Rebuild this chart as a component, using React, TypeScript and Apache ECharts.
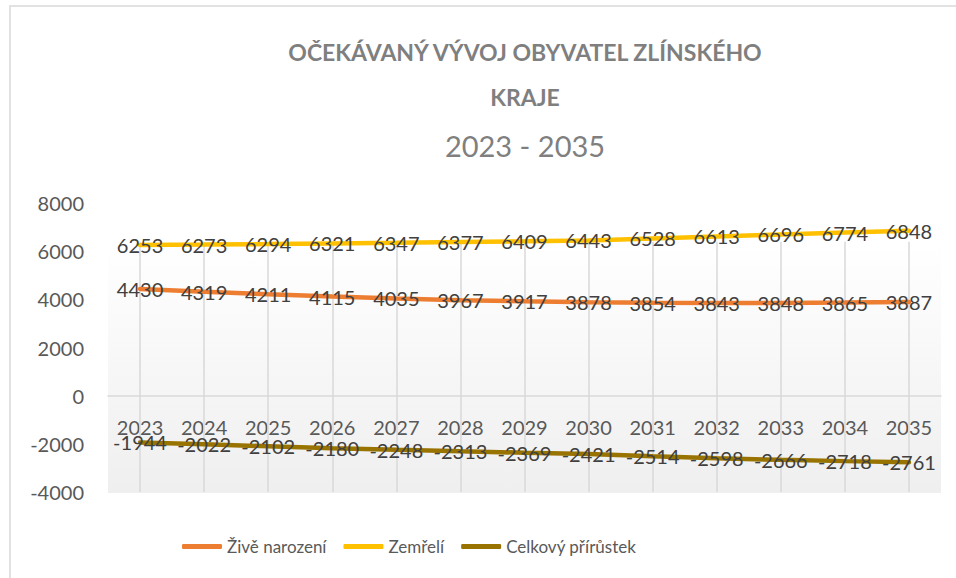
import React, { useEffect, useRef } from "react";
import * as echarts from "echarts";

const years = ["2023", "2024", "2025", "2026", "2027", "2028", "2029", "2030", "2031", "2032", "2033", "2034", "2035"];
const liveBirths = [4430, 4319, 4211, 4115, 4035, 3967, 3917, 3878, 3854, 3843, 3848, 3865, 3887];
const deaths = [6253, 6273, 6294, 6321, 6347, 6377, 6409, 6443, 6528, 6613, 6696, 6774, 6848];
const totalChange = [-1944, -2022, -2102, -2180, -2248, -2313, -2369, -2421, -2514, -2598, -2666, -2718, -2761];
const seriesNames = ["Živě narození", "Zemřelí", "Celkový přírůstek"];
const titleText = "OČEKÁVANÝ VÝVOJ OBYVATEL ZLÍNSKÉHO\nKRAJE";
const subTitleText = "2023 - 2035";

const FONT = "Lato";

export default function App() {
  const ref = useRef<HTMLDivElement>(null);
  useEffect(() => {
    document.body.style.margin = "0";
    if (!ref.current) return;
    const chart = echarts.init(ref.current, null, { renderer: "svg" });
    const label = {
      show: true,
      position: "inside",
      color: "#404040",
      fontFamily: FONT,
      fontSize: 20,
    };
    const mkSeries = (name: string, data: number[], color: string, extra: any = {}) => ({
      name,
      type: "line",
      data,
      symbol: "circle",
      symbolSize: 1,
      itemStyle: { color },
      lineStyle: { color, width: 4.5, cap: "round" },
      label,
      emphasis: { disabled: true },
      z: 3,
      ...extra,
    });
    chart.setOption({
      animation: false,
      backgroundColor: "#ffffff",
      tooltip: { show: false },
      title: {
        text: titleText,
        subtext: subTitleText,
        left: 525,
        top: 29,
        textAlign: "center",
        padding: 0,
        itemGap: 4,
        textStyle: {
          fontFamily: FONT,
          fontWeight: "bold",
          fontSize: 23,
          lineHeight: 45,
          color: "#7f7f7f",
        },
        subtextStyle: {
          fontFamily: FONT,
          fontSize: 29,
          lineHeight: 44,
          color: "#7f7f7f",
        },
      },
      legend: {
        data: seriesNames,
        left: 177,
        top: 533,
        itemWidth: 40,
        itemHeight: 5,
        itemGap: 17,
        icon: "roundRect",
        textStyle: { fontFamily: FONT, fontSize: 17, color: "#595959" },
        selectedMode: false,
      },
      graphic: [
        {
          type: "rect",
          z: -10,
          silent: true,
          shape: { x: 10, y: 6, width: 1000, height: 700 },
          style: { fill: "none", stroke: "#d9d9d9", lineWidth: 1.5 },
        },
        {
          type: "rect",
          z: -10,
          silent: true,
          shape: { x: 108, y: 242, width: 833, height: 251 },
          style: {
            fill: new echarts.graphic.LinearGradient(0, 0, 0, 1, [
              { offset: 0, color: "#ffffff" },
              { offset: 1, color: "#efefef" },
            ]),
          },
        },
      ],
      grid: { left: 108, right: 15, top: 203, bottom: 86, containLabel: false },
      xAxis: {
        type: "category",
        data: years,
        boundaryGap: true,
        axisLine: { show: true, onZero: true, lineStyle: { color: "#d9d9d9", width: 1.5 } },
        axisTick: { show: false },
        splitLine: { show: false },
        axisLabel: { fontFamily: FONT, fontSize: 20, color: "#595959", margin: -75 },
      },
      yAxis: {
        type: "value",
        min: -4000,
        max: 8000,
        interval: 2000,
        axisLine: { show: false },
        axisTick: { show: false },
        splitLine: { show: false },
        axisLabel: {
          fontFamily: FONT,
          fontSize: 20,
          color: "#595959",
          margin: 24,
          formatter: (v: number) => String(v),
        },
      },
      series: [
        mkSeries(seriesNames[0], liveBirths, "#ED7D31", {
          markLine: {
            silent: true,
            symbol: "none",
            z: 1,
            label: { show: false },
            emphasis: { disabled: true },
            lineStyle: { color: "#d9d9d9", width: 1.5, type: "solid" },
            data: years.map((y) => [{ coord: [y, 6390] }, { coord: [y, -4000] }]),
          },
        }),
        mkSeries(seriesNames[1], deaths, "#FFC000"),
        mkSeries(seriesNames[2], totalChange, "#997300"),
      ],
    });
    return () => chart.dispose();
  }, []);
  return <div ref={ref} style={{ width: 956, height: 578 }} />;
}
